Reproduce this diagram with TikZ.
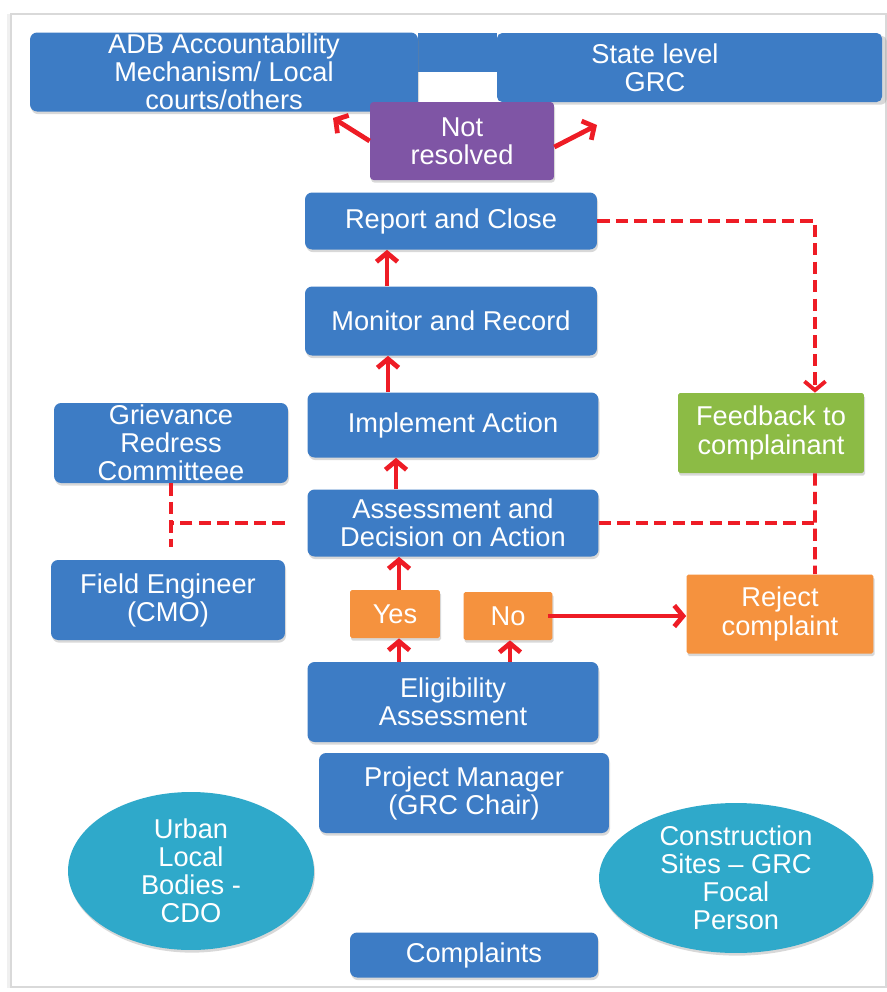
\documentclass[tikz,border=0pt]{standalone}
\usepackage{fontspec}
\setmainfont{Liberation Sans}
\usetikzlibrary{shapes,arrows.meta,positioning,calc,shadows}

\definecolor{boxblue}{HTML}{3D7CC5}
\definecolor{notpurple}{HTML}{7F55A5}
\definecolor{fbgreen}{HTML}{8CBB45}
\definecolor{rejorange}{HTML}{F5923E}
\definecolor{ovalteal}{HTML}{2FA9CA}
\definecolor{arrowred}{HTML}{EE1C25}

\tikzset{
    box/.style={rectangle, rounded corners=4pt, fill=boxblue, text=white, align=center,
        inner sep=0pt, font=\fontsize{15.5}{16}\selectfont,
        drop shadow={shadow xshift=0.6pt, shadow yshift=-1.5pt, opacity=0.3}},
    oval/.style={ellipse, fill=ovalteal, text=white, align=center, inner sep=0pt,
        font=\fontsize{15.5}{16}\selectfont,
        drop shadow={shadow xshift=0.6pt, shadow yshift=-1.5pt, opacity=0.3}},
    redarrow/.style={arrowred, line width=2.7pt, -{Straight Barb[length=5pt,width=12pt]}},
    reddash/.style={arrowred, line width=2.2pt, dash pattern=on 7pt off 3.5pt}
}

\begin{document}
\begin{tikzpicture}[x=0.02cm,y=-0.02cm]
    \useasboundingbox (0,0) rectangle (887,992);
    % page frame
    \fill[gray!12] (7,14) rectangle (12,988);
    \draw[gray!30, fill=white, line width=0.8pt] (11,14) rectangle (886,987);

    % Top: escalation
    \fill[boxblue] (418,33) rectangle (497,72);
    \fill[boxblue, rounded corners=3pt, drop shadow={shadow yshift=-1.5pt, opacity=0.3}] (497,33) rectangle (882,102);
    \node[text=white, align=center, font=\fontsize{15.5}{16}\selectfont] (state) at (655,68) {State level\\GRC};
    \node[box, minimum width=7.76cm, minimum height=1.58cm] (adb) at (224,72) {ADB Accountability\\Mechanism/ Local\\courts/others};

    \node[box, fill=notpurple, rounded corners=2pt, minimum width=3.68cm, minimum height=1.56cm] (notres) at (462,141) {Not\\resolved};
    \coordinate (adbin) at (333,118);
    \coordinate (statein) at (597,125);
    \draw[redarrow] (notres.west) -- (adbin);
    \draw[redarrow] ([yshift=-0.12cm]notres.east) -- (statein);

    % Main column
    \node[box, minimum width=5.84cm, minimum height=1.14cm] (report) at (451,221) {Report and Close};
    \node[box, minimum width=5.84cm, minimum height=1.38cm] (monitor) at (451,321) {Monitor and Record};
    \node[box, minimum width=5.82cm, minimum height=1.30cm] (implement) at (453,425) {Implement Action};
    \node[box, minimum width=5.82cm, minimum height=1.34cm] (assess) at (453,523) {Assessment and\\Decision on Action};

    \draw[redarrow] (monitor.north -| 387,0) -- (report.south -| 387,0);
    \draw[redarrow] (implement.north -| 388,0) -- (monitor.south -| 388,0);
    \draw[redarrow] (assess.north -| 396,0) -- (implement.south -| 396,0);

    % Left side
    \node[box, minimum width=4.68cm, minimum height=1.60cm] (grc) at (171,443) {Grievance\\Redress\\Committeee};
    \node[box, minimum width=4.68cm, minimum height=1.60cm] (field) at (168,600) {Field Engineer\\(CMO)};
    \draw[reddash] ([xshift=-0.45cm]assess.west) -- (assess.west -| grc.south);
    \draw[reddash] (grc.south) -- ([yshift=0.25cm]field.north -| grc.south);

    % Decision
    \node[box, fill=rejorange, rounded corners=1pt, minimum width=1.80cm, minimum height=0.96cm] (yes) at (395,614) {Yes};
    \node[box, fill=rejorange, rounded corners=1pt, minimum width=1.78cm, minimum height=0.96cm] (no) at (508,616) {No};
    \node[box, fill=rejorange, rounded corners=1pt, minimum width=3.74cm, minimum height=1.58cm] (reject) at (780,614) {Reject\\complaint};
    \node[box, fill=fbgreen, rounded corners=1pt, minimum width=3.72cm, minimum height=1.60cm] (feedback) at (771,433) {Feedback to\\complainant};

    \draw[redarrow] (yes.north -| 399,0) -- (assess.south -| 399,0);
    \draw[redarrow] ([xshift=-0.1cm]no.east) -- (no.east -| reject.west);

    % Feedback loop
    \draw[reddash, -{Straight Barb[length=5pt,width=12pt]}] (report.east) -| ([xshift=0.88cm]feedback.north);
    \draw[reddash] ([xshift=0.88cm]feedback.south) -- ([xshift=0.7cm]reject.north);
    \draw[reddash] (assess.east) -- (assess.east -| 815,0);

    % Bottom
    \node[box, minimum width=5.82cm, minimum height=1.60cm] (elig) at (453,702) {Eligibility\\Assessment};
    \draw[redarrow] (elig.north -| 399,0) -- (yes.south -| 399,0);
    \draw[redarrow] (elig.north -| 510,0) -- (no.south -| 510,0);

    \node[box, minimum width=5.80cm, minimum height=1.60cm] (pm) at (464,793) {Project Manager\\(GRC Chair)};
    \node[oval, minimum width=4.92cm, minimum height=3.16cm] (ulb) at (191,871) {Urban\\Local\\Bodies -\\CDO};
    \node[oval, minimum width=5.48cm, minimum height=3.00cm] (csg) at (736,878) {Construction\\Sites -- GRC\\Focal\\Person};
    \node[box, minimum width=4.96cm, minimum height=0.90cm] (compl) at (474,955) {Complaints};
\end{tikzpicture}
\end{document}
